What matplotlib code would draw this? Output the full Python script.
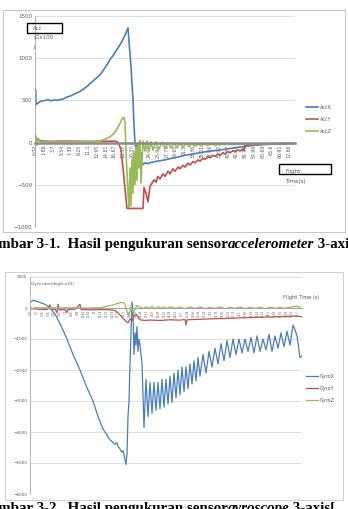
import matplotlib.pyplot as plt
from matplotlib.patches import Rectangle
import numpy as np

W, H = 348, 509

# ---- Figure 3-1 : accelerometer (x = sample number) ----
acc_ticklabels = ["0.02", "1.86", "3.7", "5.54", "7.39", "9.25", "11.1", "12.95", "14.81",
                  "16.67", "18.52", "20.37", "22.23", "24.08", "25.94", "27.79", "29.65",
                  "31.5", "33.36", "35.21", "37.06", "38.92", "40.77", "42.62", "55.73",
                  "57.99", "60.69", "63.6", "66.91", "72.86"]

accx_t = [0, 0.5, 1, 3, 6, 10, 13, 16, 19, 22, 25, 28, 32, 36, 40, 44, 48, 52, 56, 60, 65, 68,
          70, 73, 75, 78, 80, 83, 85, 87, 89, 91, 93, 94, 96, 98, 99, 100, 101, 102, 103, 104,
          105, 106, 107, 108, 110, 113, 116, 120, 125, 130, 135, 140, 145, 150, 160, 170, 180,
          190, 200, 210, 220, 230, 240, 250, 260]
accx_v = [470, 630, 450, 470, 490, 500, 510, 495, 505, 500, 510, 515, 540, 555, 580, 600, 630,
          665, 710, 750, 805, 850, 890, 940, 985, 1030, 1070, 1120, 1160, 1200, 1250, 1300, 1360,
          1200, 900, 500, 200, 0, -80, -30, -150, -60, -200, -120, -230, -260, -240, -250, -235,
          -225, -215, -205, -190, -180, -165, -150, -130, -110, -95, -80, -60, -45, -30, -20,
          -12, -8, -5]

accy_t = [0, 1, 3, 6, 15, 30, 50, 70, 80, 83, 86, 88, 90, 92, 108, 109, 111, 113, 115, 117, 119,
          121, 123, 125, 128, 130, 133, 135, 138, 140, 143, 145, 148, 150, 153, 155, 158, 160,
          163, 165, 168, 170, 173, 175, 178, 180, 183, 185, 188, 190, 193, 195, 198, 200, 203,
          205, 207, 209, 210, 220, 235, 250, 260]
accy_v = [20, 60, 40, 20, 15, 18, 15, 15, 18, 5, -80, -300, -550, -780, -780, -530, -600, -700,
          -520, -480, -440, -470, -400, -430, -370, -400, -340, -370, -310, -340, -290, -310,
          -270, -290, -245, -265, -225, -240, -205, -220, -185, -200, -165, -180, -150, -165,
          -135, -150, -120, -135, -105, -120, -95, -110, -85, -100, -80, -95, -30, -25, -20,
          -15, -10]

accz_t = [0, 1, 2, 3, 5, 20, 40, 60, 65, 70, 75, 79, 82, 85, 87, 89, 90, 91, 92, 93, 94, 95, 96,
          97, 98, 99, 100, 101, 102, 103, 104, 105, 106, 108, 110, 112, 114, 116, 118, 121, 124,
          127, 130, 133, 136, 139, 142, 145, 148, 151, 154, 157, 160, 163, 166, 169, 172, 176,
          180, 190, 200, 220, 240, 260]
accz_v = [0, 80, -30, 50, 10, 8, 10, 12, 20, 40, 70, 110, 160, 230, 280, 300, 250, -100, -350,
          -600, -770, -300, -750, -200, -600, -100, -500, -50, -450, 0, -300, 30, -480, 20, -100,
          20, -100, 10, -90, 10, -80, 5, -70, 0, -65, -5, -60, -5, -55, -10, -50, -10, -45, -15,
          -40, -15, -35, -20, -30, -20, -20, -15, -10, -5]

# ---- Figure 3-2 : gyroscope (x = sample number) ----
gyro_ticklabels = ["0.02", "1.2", "2.38", "3.56", "4.74", "5.92", "7.1", "8.28", "9.46",
                   "10.64", "11.82", "13", "14.18", "15.36", "16.54", "17.72", "18.9", "20.08",
                   "21.26", "22.44", "23.62", "24.8", "25.98", "27.16", "28.34", "29.52",
                   "30.7", "31.88", "33.06", "34.24", "35.42", "36.6", "37.78", "38.96",
                   "40.14", "41.32", "42.5", "43.68", "44.86", "46.04", "47.22", "48.4",
                   "49.58", "50.76", "51.94", "53.12", "54.3"]

gyrox_t = [1, 3, 5, 10, 15, 20, 25, 30, 37, 43, 50, 56, 63, 68, 73, 80, 85, 87, 88, 92, 93, 94,
           96, 97, 98, 99, 100, 101, 102, 103, 104, 105, 106, 107, 108, 109, 110, 112, 114, 116,
           118, 120, 122, 124, 126, 128, 130, 132, 134, 136, 138, 140, 142, 144, 146, 148, 150,
           152, 154, 156, 158, 160, 162, 164, 166, 168, 170, 173, 176, 179, 182, 185, 188, 191,
           194, 197, 200, 203, 206, 209, 212, 215, 218, 221, 224, 227, 230, 233, 236, 239, 242,
           245, 248, 251, 254, 257, 260, 263, 265, 267, 270, 272]
gyrox_v = [200, 250, 230, 180, 120, 20, -200, -500, -1000, -1500, -2000, -2500, -3000, -3500,
           -3900, -4250, -4400, -4350, -4450, -4650, -4600, -4750, -5050, -4700, -3500, -3000,
           -1800, -800, 200, -200, -1500, -800, -1200, -600, -1400, -1000, -1200, -1800, -3850,
           -2300, -3500, -2400, -3400, -2400, -3300, -2400, -3250, -2300, -3200, -2300, -3100,
           -2200, -3050, -2100, -2900, -2000, -2800, -1900, -2700, -1900, -2600, -1800, -2450,
           -1700, -2350, -1600, -2200, -1500, -2100, -1400, -1900, -1300, -1800, -1150, -1700,
           -1050, -1600, -1000, -1500, -1000, -1450, -1000, -1400, -950, -1450, -900, -1400,
           -1000, -1350, -850, -1400, -900, -1300, -800, -1250, -750, -1200, -550, -700, -900,
           -1600, -1550]

gyroy_t = [0, 5, 10, 15, 18, 20, 21, 25, 27, 28, 29, 35, 37, 38, 45, 50, 51, 60, 70, 80, 85, 88,
           92, 95, 98, 100, 102, 104, 106, 108, 110, 115, 120, 130, 140, 150, 155, 156, 157, 165,
           180, 195, 210, 225, 240, 255, 265, 272]
gyroy_v = [-20, -30, -40, -50, -40, 100, -50, -40, -150, 120, -60, -50, -150, -50, -40, 120, -50,
           -60, -50, -60, -80, -150, -300, -400, -480, -350, -420, -250, -200, -300, -380, -400,
           -390, -400, -380, -390, -370, -550, -380, -370, -350, -340, -320, -300, -290, -270,
           -260, -280]

gyroz_t = [0, 2, 5, 10, 20, 30, 40, 50, 60, 70, 75, 80, 85, 90, 93, 95, 97, 99, 101, 103, 105,
           107, 110, 113, 116, 119, 122, 125, 128, 131, 134, 137, 140, 145, 150, 155, 160, 165,
           170, 175, 180, 185, 190, 195, 200, 205, 210, 215, 220, 225, 230, 235, 240, 245, 250,
           255, 260, 265, 268, 270, 272]
gyroz_v = [30, -20, 10, 0, 10, 0, 10, 0, 0, 10, 40, 80, 120, 170, 180, 120, -100, -250, 50, -150,
           -50, 80, 30, -20, 40, -10, 50, -20, 40, -10, 30, -20, 40, -10, 30, -20, 30, -10, 30,
           -20, 20, -10, 30, -20, 20, -10, 30, -20, 20, -10, 20, -20, 20, -10, 20, -10, 20, 60,
           50, 0, -20]

c_x, c_y, c_z = "#4a7ebb", "#c0504d", "#9bbb59"
grey_txt = "#595959"


def fx(px):
    return px / W


def fy(py):
    return 1 - py / H


fig = plt.figure(figsize=(W / 100, H / 100), dpi=100)
fig.patch.set_facecolor("white")

# chart frames
fig.patches.append(Rectangle((fx(3), fy(232)), 342 / W, 222 / H, transform=fig.transFigure,
                             fill=False, ec="#c8c8c8", lw=0.8))
fig.patches.append(Rectangle((fx(5), fy(500)), 338 / W, 228 / H, transform=fig.transFigure,
                             fill=False, ec="#d0d0d0", lw=0.8))


def style_axes(ax, ylim, yticks, tick_fs, zero_lw, zero_col):
    ax.set_ylim(*ylim)
    ax.set_yticks(yticks)
    ax.grid(axis="y", color="#d9d9d9", lw=0.6)
    ax.set_axisbelow(True)
    for s in ["top", "right"]:
        ax.spines[s].set_visible(False)
    ax.spines["left"].set_color("#a6a6a6")
    ax.spines["left"].set_linewidth(0.6)
    ax.spines["bottom"].set_position(("data", 0))
    ax.spines["bottom"].set_color(zero_col)
    ax.spines["bottom"].set_linewidth(zero_lw)
    ax.tick_params(length=0, labelcolor=grey_txt)
    ax.tick_params(axis="y", labelsize=tick_fs, pad=2)


# ---- top chart ----
ax1 = fig.add_axes([fx(35), fy(227), 260 / W, 211 / H])
ax1.plot(accx_t, accx_v, color=c_x, lw=1.2, label="AccX")
ax1.plot(accy_t, accy_v, color=c_y, lw=1.2, label="AccY")
ax1.plot(accz_t, accz_v, color=c_z, lw=1.2, label="AccZ")
ax1.set_xlim(0, 260)
style_axes(ax1, (-1000, 1500), [-1000, -500, 0, 500, 1000, 1500], 4, 1.8, "#8c8c8c")
ax1.set_xticks(np.linspace(0.7, 254, len(acc_ticklabels)))
ax1.set_xticklabels(acc_ticklabels, rotation=90, fontsize=3.3)
ax1.tick_params(axis="x", pad=1.5)
ax1.legend(loc="upper left", bbox_to_anchor=(fx(306), fy(105)), bbox_transform=fig.transFigure,
           frameon=False, fontsize=3.5, handlelength=2.5, handletextpad=0.4, labelspacing=1.4,
           borderpad=0, borderaxespad=0, labelcolor=grey_txt)

fig.patches.append(Rectangle((fx(27), fy(33)), 35 / W, 10 / H, transform=fig.transFigure,
                             fill=False, ec="black", lw=1.0))
fig.text(fx(33), fy(29), "Acc", fontsize=4, color=grey_txt, va="center")
fig.text(fx(33), fy(38), "(Gx100", fontsize=4, color=grey_txt, va="center")
fig.text(fx(33), fy(47), ")", fontsize=4, color=grey_txt, va="center")
fig.patches.append(Rectangle((fx(279), fy(174)), 52 / W, 10 / H, transform=fig.transFigure,
                             fill=False, ec="black", lw=1.0))
fig.text(fx(285), fy(171), "Flight", fontsize=4, color=grey_txt, va="center")
fig.text(fx(285), fy(181), "Time(s)", fontsize=4, color=grey_txt, va="center")

# ---- bottom chart ----
ax2 = fig.add_axes([fx(30), fy(494), 272 / W, 217 / H])
ax2.plot(gyrox_t, gyrox_v, color=c_x, lw=0.9, label="GyroX")
ax2.plot(gyroy_t, gyroy_v, color=c_y, lw=0.9, label="GyroY")
ax2.plot(gyroz_t, gyroz_v, color=c_z, lw=0.9, label="GyroZ")
ax2.set_xlim(0, 272)
style_axes(ax2, (-6000, 1000), list(range(-6000, 1001, 1000)), 3, 0.8, "#a6a6a6")
ax2.set_xticks(np.linspace(1, 268, len(gyro_ticklabels)))
ax2.set_xticklabels(gyro_ticklabels, rotation=90, fontsize=1.8)
ax2.tick_params(axis="x", pad=1.5)
ax2.legend(loc="upper left", bbox_to_anchor=(fx(306), fy(374)), bbox_transform=fig.transFigure,
           frameon=False, fontsize=3.5, handlelength=2.5, handletextpad=0.4, labelspacing=1.4,
           borderpad=0, borderaxespad=0, labelcolor=grey_txt)
fig.text(fx(31), fy(284), "Gyro rate(deg/s x10)", fontsize=3, color=grey_txt, va="center")
fig.text(fx(283), fy(298), "Flight Time (s)", fontsize=3.6, color=grey_txt, va="center")

# ---- captions (cropped at the image edges, as in the scanned page) ----
renderer = fig.canvas.get_renderer()
cap_kw = dict(family="Liberation Serif", fontsize=10.8, fontweight="bold", va="baseline")


def caption(y_px, parts):
    probe = fig.text(0, 0, "Ga", **cap_kw)
    x = -probe.get_window_extent(renderer).width - 2
    probe.remove()
    for s, italic in parts:
        t = fig.text(fx(x), fy(y_px), s, style="italic" if italic else "normal", **cap_kw)
        x += t.get_window_extent(renderer).width


caption(248, [("Gambar 3-1.  Hasil pengukuran sensor", False), ("accelerometer", True),
              (" 3-axis", False)])
caption(512, [("Gambar 3-2.  Hasil pengukuran sensor", False), ("gyroscope", True),
              (" 3-axis[", False)])

fig.savefig("out.png", dpi=100)
